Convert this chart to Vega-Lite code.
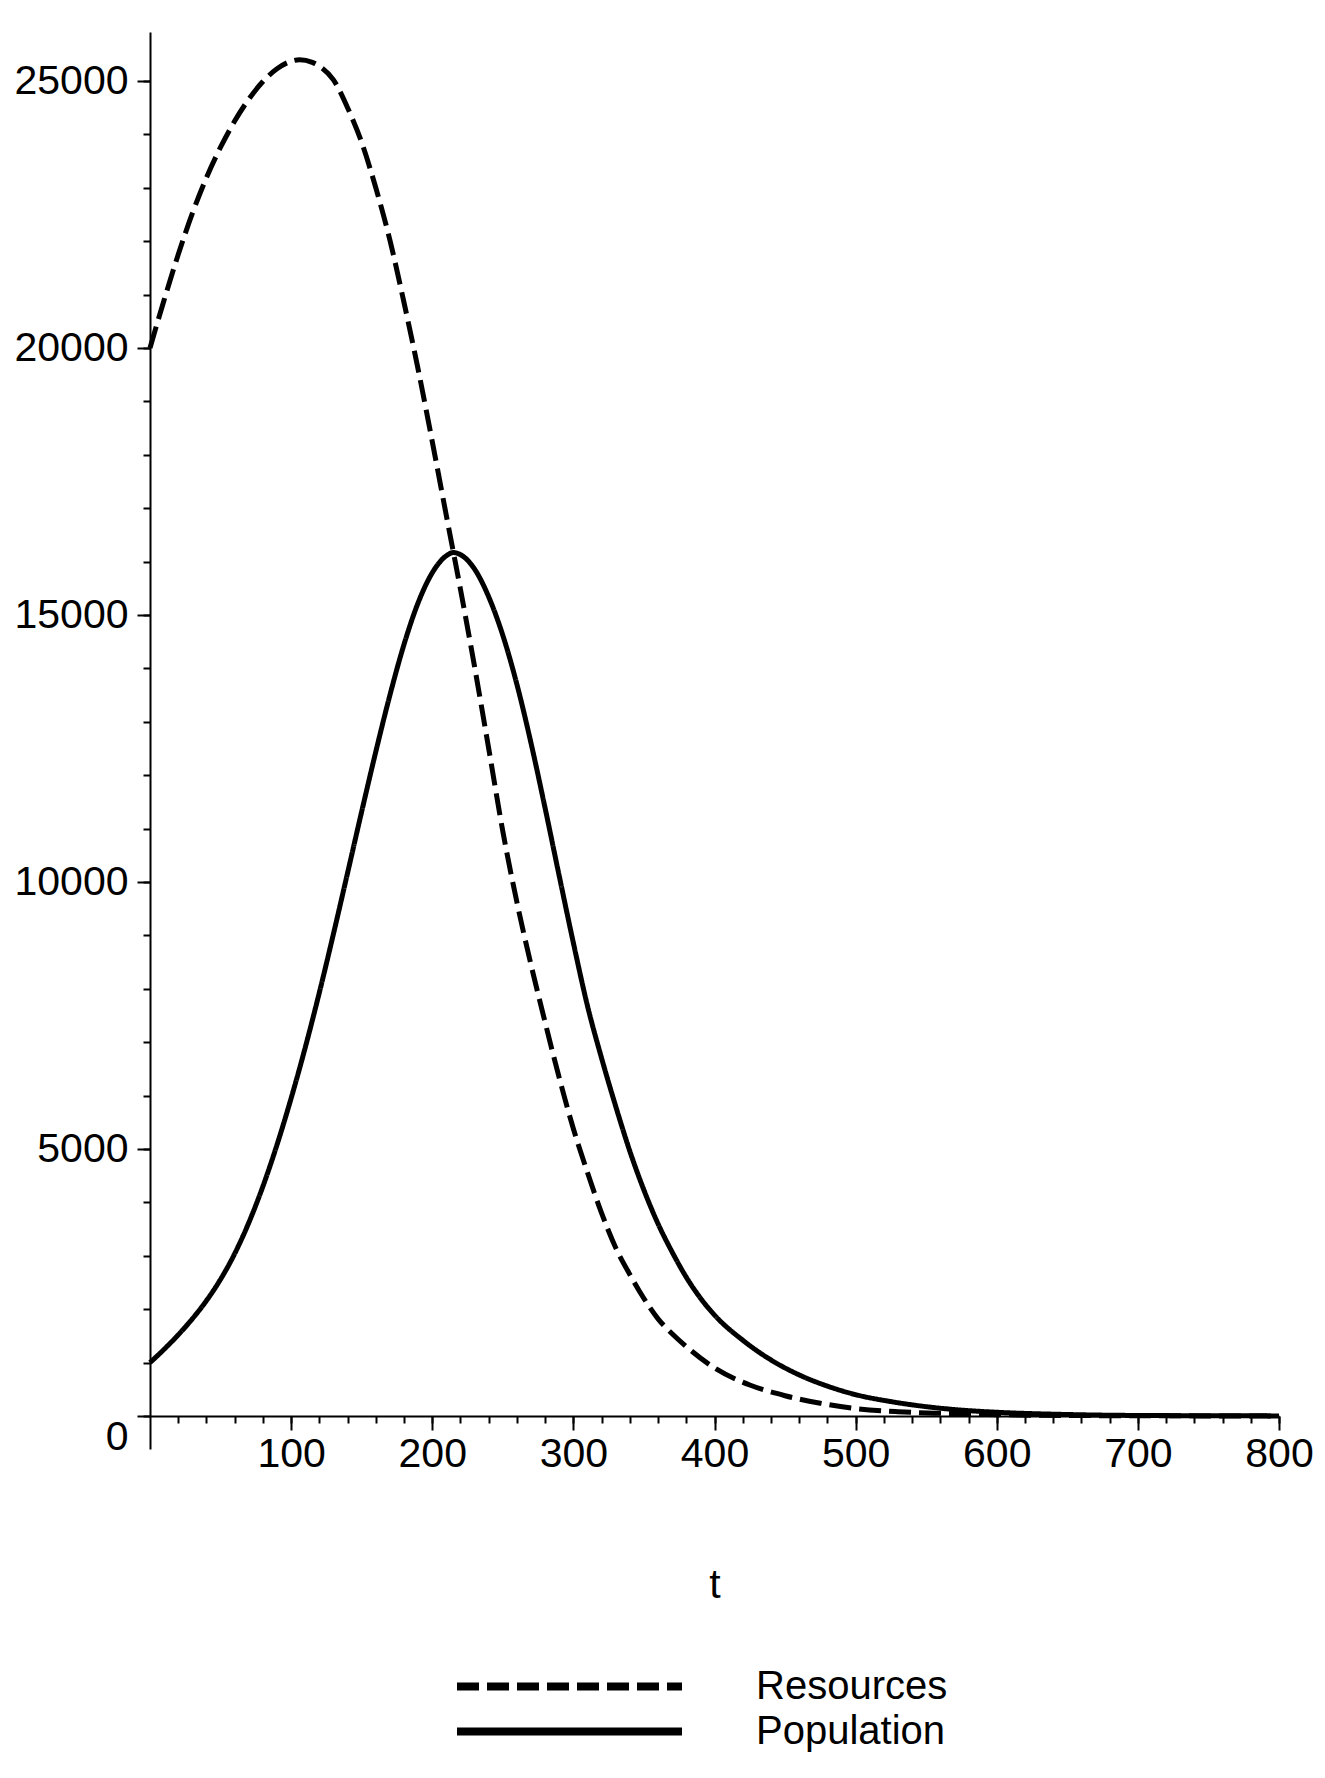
{
  "$schema": "https://vega.github.io/schema/vega-lite/v6.json",
  "width": 1129,
  "height": 1384,
  "autosize": {"type": "none"},
  "padding": {"left": 150, "top": 32, "right": 46, "bottom": 362},
  "background": "white",
  "config": {
    "view": {"stroke": null},
    "axis": {
      "grid": false,
      "domainColor": "black",
      "domainWidth": 2,
      "tickColor": "black",
      "tickWidth": 2,
      "labelFont": "Liberation Sans, Arial, sans-serif",
      "labelFontSize": 41,
      "labelColor": "black",
      "labelFlush": false,
      "labelOverlap": false,
      "titleFont": "Liberation Sans, Arial, sans-serif",
      "titleFontSize": 41,
      "titleFontWeight": "normal",
      "titleColor": "black"
    }
  },
  "data": {
    "values": [
      {"t": 0, "v": 20000, "series": "Resources"},
      {"t": 10, "v": 20900, "series": "Resources"},
      {"t": 20, "v": 21750, "series": "Resources"},
      {"t": 30, "v": 22520, "series": "Resources"},
      {"t": 40, "v": 23190, "series": "Resources"},
      {"t": 50, "v": 23760, "series": "Resources"},
      {"t": 60, "v": 24250, "series": "Resources"},
      {"t": 70, "v": 24660, "series": "Resources"},
      {"t": 80, "v": 24990, "series": "Resources"},
      {"t": 90, "v": 25230, "series": "Resources"},
      {"t": 100, "v": 25370, "series": "Resources"},
      {"t": 106, "v": 25400, "series": "Resources"},
      {"t": 115, "v": 25350, "series": "Resources"},
      {"t": 120, "v": 25280, "series": "Resources"},
      {"t": 130, "v": 25020, "series": "Resources"},
      {"t": 140, "v": 24500, "series": "Resources"},
      {"t": 150, "v": 23850, "series": "Resources"},
      {"t": 160, "v": 23000, "series": "Resources"},
      {"t": 170, "v": 22020, "series": "Resources"},
      {"t": 180, "v": 20850, "series": "Resources"},
      {"t": 190, "v": 19600, "series": "Resources"},
      {"t": 200, "v": 18250, "series": "Resources"},
      {"t": 210, "v": 16860, "series": "Resources"},
      {"t": 220, "v": 15480, "series": "Resources"},
      {"t": 230, "v": 14030, "series": "Resources"},
      {"t": 240, "v": 12500, "series": "Resources"},
      {"t": 250, "v": 10950, "series": "Resources"},
      {"t": 260, "v": 9620, "series": "Resources"},
      {"t": 270, "v": 8450, "series": "Resources"},
      {"t": 280, "v": 7370, "series": "Resources"},
      {"t": 290, "v": 6330, "series": "Resources"},
      {"t": 300, "v": 5380, "series": "Resources"},
      {"t": 310, "v": 4560, "series": "Resources"},
      {"t": 320, "v": 3800, "series": "Resources"},
      {"t": 330, "v": 3150, "series": "Resources"},
      {"t": 340, "v": 2650, "series": "Resources"},
      {"t": 350, "v": 2200, "series": "Resources"},
      {"t": 360, "v": 1820, "series": "Resources"},
      {"t": 370, "v": 1540, "series": "Resources"},
      {"t": 380, "v": 1300, "series": "Resources"},
      {"t": 400, "v": 900, "series": "Resources"},
      {"t": 425, "v": 580, "series": "Resources"},
      {"t": 450, "v": 380, "series": "Resources"},
      {"t": 475, "v": 240, "series": "Resources"},
      {"t": 500, "v": 140, "series": "Resources"},
      {"t": 530, "v": 80, "series": "Resources"},
      {"t": 560, "v": 50, "series": "Resources"},
      {"t": 600, "v": 25, "series": "Resources"},
      {"t": 650, "v": 10, "series": "Resources"},
      {"t": 700, "v": 4, "series": "Resources"},
      {"t": 800, "v": 1, "series": "Resources"},
      {"t": 0, "v": 1000, "series": "Population"},
      {"t": 10, "v": 1250, "series": "Population"},
      {"t": 20, "v": 1520, "series": "Population"},
      {"t": 30, "v": 1820, "series": "Population"},
      {"t": 40, "v": 2160, "series": "Population"},
      {"t": 50, "v": 2560, "series": "Population"},
      {"t": 60, "v": 3040, "series": "Population"},
      {"t": 70, "v": 3620, "series": "Population"},
      {"t": 80, "v": 4300, "series": "Population"},
      {"t": 90, "v": 5080, "series": "Population"},
      {"t": 100, "v": 5950, "series": "Population"},
      {"t": 110, "v": 6900, "series": "Population"},
      {"t": 120, "v": 7930, "series": "Population"},
      {"t": 130, "v": 9030, "series": "Population"},
      {"t": 140, "v": 10170, "series": "Population"},
      {"t": 150, "v": 11320, "series": "Population"},
      {"t": 160, "v": 12440, "series": "Population"},
      {"t": 170, "v": 13500, "series": "Population"},
      {"t": 180, "v": 14450, "series": "Population"},
      {"t": 190, "v": 15230, "series": "Population"},
      {"t": 200, "v": 15790, "series": "Population"},
      {"t": 210, "v": 16110, "series": "Population"},
      {"t": 215, "v": 16170, "series": "Population"},
      {"t": 220, "v": 16130, "series": "Population"},
      {"t": 230, "v": 15860, "series": "Population"},
      {"t": 240, "v": 15340, "series": "Population"},
      {"t": 250, "v": 14620, "series": "Population"},
      {"t": 260, "v": 13700, "series": "Population"},
      {"t": 270, "v": 12600, "series": "Population"},
      {"t": 280, "v": 11380, "series": "Population"},
      {"t": 290, "v": 10110, "series": "Population"},
      {"t": 300, "v": 8860, "series": "Population"},
      {"t": 310, "v": 7680, "series": "Population"},
      {"t": 320, "v": 6700, "series": "Population"},
      {"t": 330, "v": 5800, "series": "Population"},
      {"t": 340, "v": 4960, "series": "Population"},
      {"t": 350, "v": 4230, "series": "Population"},
      {"t": 360, "v": 3600, "series": "Population"},
      {"t": 370, "v": 3070, "series": "Population"},
      {"t": 380, "v": 2600, "series": "Population"},
      {"t": 390, "v": 2210, "series": "Population"},
      {"t": 400, "v": 1890, "series": "Population"},
      {"t": 420, "v": 1420, "series": "Population"},
      {"t": 440, "v": 1050, "series": "Population"},
      {"t": 460, "v": 770, "series": "Population"},
      {"t": 480, "v": 560, "series": "Population"},
      {"t": 500, "v": 400, "series": "Population"},
      {"t": 525, "v": 270, "series": "Population"},
      {"t": 550, "v": 175, "series": "Population"},
      {"t": 575, "v": 110, "series": "Population"},
      {"t": 600, "v": 70, "series": "Population"},
      {"t": 650, "v": 28, "series": "Population"},
      {"t": 700, "v": 10, "series": "Population"},
      {"t": 800, "v": 2, "series": "Population"}
    ]
  },
  "layer": [
    {
      "mark": {"type": "line", "color": "black", "strokeWidth": 5, "interpolate": "monotone", "opacity": 0},
      "encoding": {
        "detail": {"field": "series", "type": "nominal"},
        "x": {
          "field": "t", "type": "quantitative",
          "scale": {"domain": [0, 800], "nice": false, "zero": false},
          "axis": {
            "orient": "bottom",
            "values": [0,20,40,60,80,100,120,140,160,180,200,220,240,260,280,300,320,340,360,380,400,420,440,460,480,500,520,540,560,580,600,620,640,660,680,700,720,740,760,780,800],
            "labels": false, "domain": false, "title": null,
            "tickSize": {"condition": {"test": "datum.value === 0", "value": 33}, "value": 7}
          }
        },
        "y": {
          "field": "v", "type": "quantitative",
          "scale": {"domain": [0, 25918], "nice": false},
          "axis": {
            "orient": "left",
            "values": [0,1000,2000,3000,4000,5000,6000,7000,8000,9000,10000,11000,12000,13000,14000,15000,16000,17000,18000,19000,20000,21000,22000,23000,24000,25000],
            "labels": false, "domain": false, "title": null, "tickSize": 7
          }
        }
      }
    },
    {
      "mark": {"type": "line", "color": "black", "strokeWidth": 5, "interpolate": "monotone"},
      "encoding": {
        "x": {
          "field": "t", "type": "quantitative",
          "axis": {
            "orient": "bottom",
            "values": [100,200,300,400,500,600,700,800],
            "format": "d",
            "tickSize": 14,
            "labelPadding": 4,
            "title": "t",
            "titleBaseline": "alphabetic",
            "titleY": 181
          }
        },
        "y": {
          "field": "v", "type": "quantitative",
          "axis": {
            "orient": "left",
            "values": [0,5000,10000,15000,20000,25000],
            "format": "d",
            "tickSize": 13,
            "labelPadding": 9,
            "labelOffset": {"condition": {"test": "datum.value === 0", "value": 21}, "value": 0},
            "title": null
          }
        },
        "strokeDash": {
          "field": "series", "type": "nominal",
          "scale": {"domain": ["Resources", "Population"], "range": [[22, 8], [1, 0]]},
          "legend": {
            "orient": "none",
            "legendX": 303,
            "legendY": 1632,
            "direction": "vertical",
            "title": null,
            "padding": 0,
            "symbolType": "stroke",
            "symbolSize": 50625,
            "symbolStrokeWidth": 8,
            "symbolStrokeColor": "black",
            "clipHeight": 45,
            "rowPadding": 0,
            "labelFont": "Liberation Sans, Arial, sans-serif",
            "labelFontSize": 40,
            "labelColor": "black",
            "labelOffset": 70,
            "labelLimit": 0,
            "encode": {
              "symbols": {
                "update": {
                  "strokeDash": {"signal": "datum.value === 'Resources' ? [13, 5] : [1, 0]"}
                }
              }
            }
          }
        }
      }
    }
  ],
  "resolve": {"axis": {"x": "independent", "y": "independent"}}
}
